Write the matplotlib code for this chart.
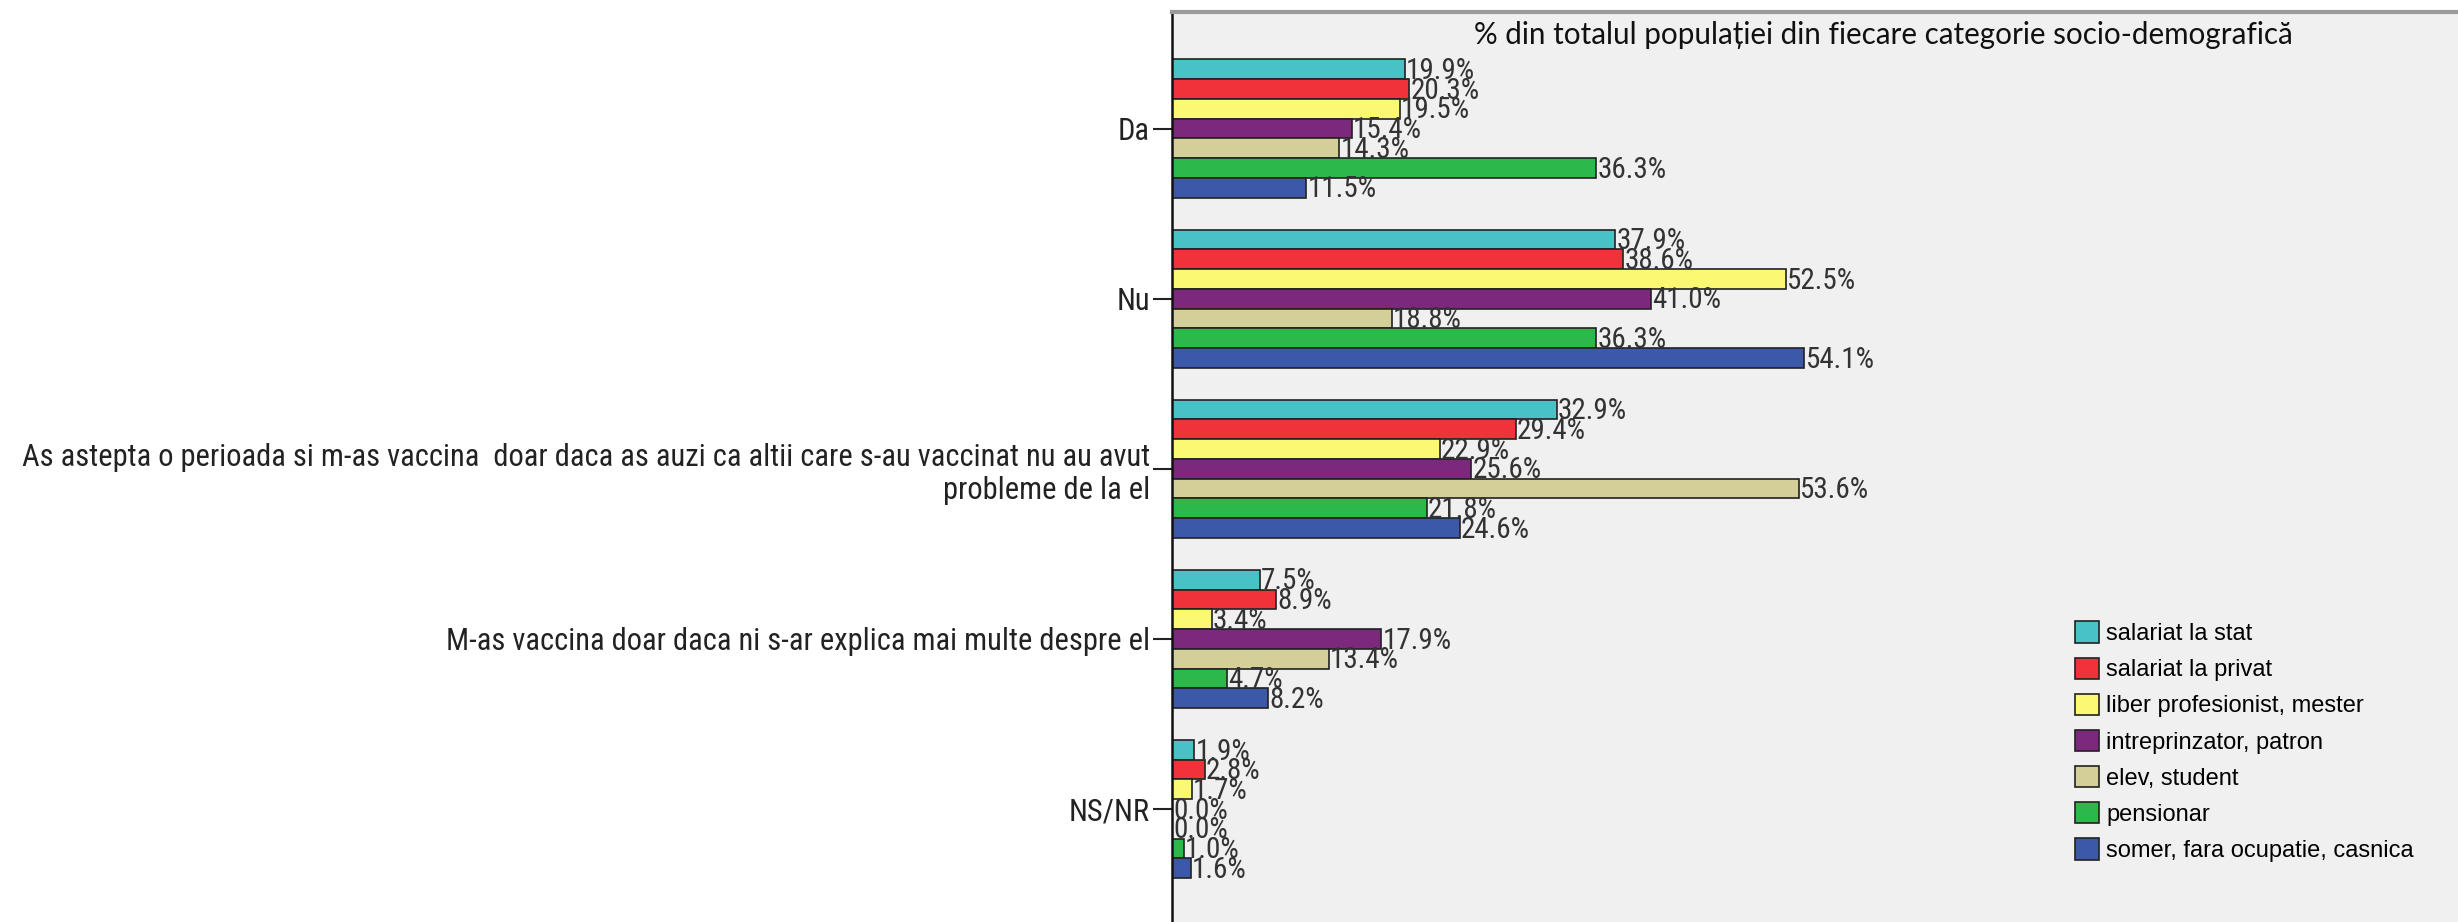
import numpy as np
import matplotlib
matplotlib.use("Agg")
import matplotlib.pyplot as plt
from matplotlib import font_manager as fm
from matplotlib.patches import Patch

# --- data ---
categories = [
    "Da",
    "Nu",
    "As astepta o perioada si m-as vaccina  doar daca as auzi ca altii care s-au vaccinat nu au avut\nprobleme de la el",
    "M-as vaccina doar daca ni s-ar explica mai multe despre el",
    "NS/NR",
]
groups = [
    "salariat la stat",
    "salariat la privat",
    "liber profesionist, mester",
    "intreprinzator, patron",
    "elev, student",
    "pensionar",
    "somer, fara ocupatie, casnica",
]
salariat_stat = [19.9, 37.9, 32.9, 7.5, 1.9]
salariat_privat = [20.3, 38.6, 29.4, 8.9, 2.8]
liber_prof = [19.5, 52.5, 22.9, 3.4, 1.7]
intreprinzator = [15.4, 41.0, 25.6, 17.9, 0.0]
elev_student = [14.3, 18.8, 53.6, 13.4, 0.0]
pensionar = [36.3, 36.3, 21.8, 4.7, 1.0]
somer = [11.5, 54.1, 24.6, 8.2, 1.6]
series = [salariat_stat, salariat_privat, liber_prof, intreprinzator,
          elev_student, pensionar, somer]
colors = ["#49c2c6", "#f0323a", "#fbf872", "#7c287c", "#d4cf99", "#2db84a", "#3c58a8"]

title = "% din totalul populației din fiecare categorie socio-demografică"

# pick a narrow font if one is there, else condensed DejaVu
names = {f.name for f in fm.fontManager.ttflist}
narrow = None
for n in ["Liberation Sans Narrow", "Arial Narrow", "Roboto Condensed", "Open Sans Condensed"]:
    if n in names:
        narrow = dict(family=n)
        break
if narrow is None:
    narrow = dict(family="DejaVu Sans", stretch="condensed")

fig = plt.figure(figsize=(24.58, 9.22), dpi=100)
ax = fig.add_axes([1172 / 2458, 0.0, 1 - 1172 / 2458, 1 - 12.5 / 922])
ax.set_facecolor("#f0f0f0")

y = np.arange(len(categories))
h = 0.116
for i, (vals, col) in enumerate(zip(series, colors)):
    pos = y + (i - 3) * h
    ax.barh(pos, vals, height=h, color=col, edgecolor="#222222", linewidth=1.2)
    for p, v in zip(pos, vals):
        ax.text(v + 0.1, p + 0.01, f"{v:.1f}%", va="center", ha="left",
                fontsize=21, color="#333333", **narrow)

ax.set_xlim(0, 110)
ax.set_ylim(4.664, -0.682)
ax.set_xticks([])
ax.set_yticks(y)
ax.set_yticklabels(categories, fontsize=22, color="#222222",
                   ha="right", multialignment="right", **narrow)
ax.tick_params(axis="y", length=14, width=1.5, color="#222222", pad=2)

for s in ["right", "bottom"]:
    ax.spines[s].set_visible(False)
ax.spines["left"].set_color("#111111")
ax.spines["left"].set_linewidth(1.8)
ax.spines["top"].set_color("#9a9a9a")
ax.spines["top"].set_linewidth(3)

fig.text(1883 / 2458, 1 - 35 / 922, title, ha="center", va="center",
         fontsize=21.3, family="Lato", color="#111111")

handles = [Patch(facecolor=c, edgecolor="#222222", linewidth=1.2) for c in colors]
fig.legend(handles, groups, loc="upper left",
           bbox_to_anchor=(2066 / 2458, 1 - 612 / 922),
           frameon=False, handlelength=1.0, handleheight=1.0,
           handletextpad=0.3, labelspacing=0.53, borderaxespad=0,
           prop={"family": "Liberation Sans", "size": 17})

fig.savefig("out.png", dpi=100, facecolor="white")
